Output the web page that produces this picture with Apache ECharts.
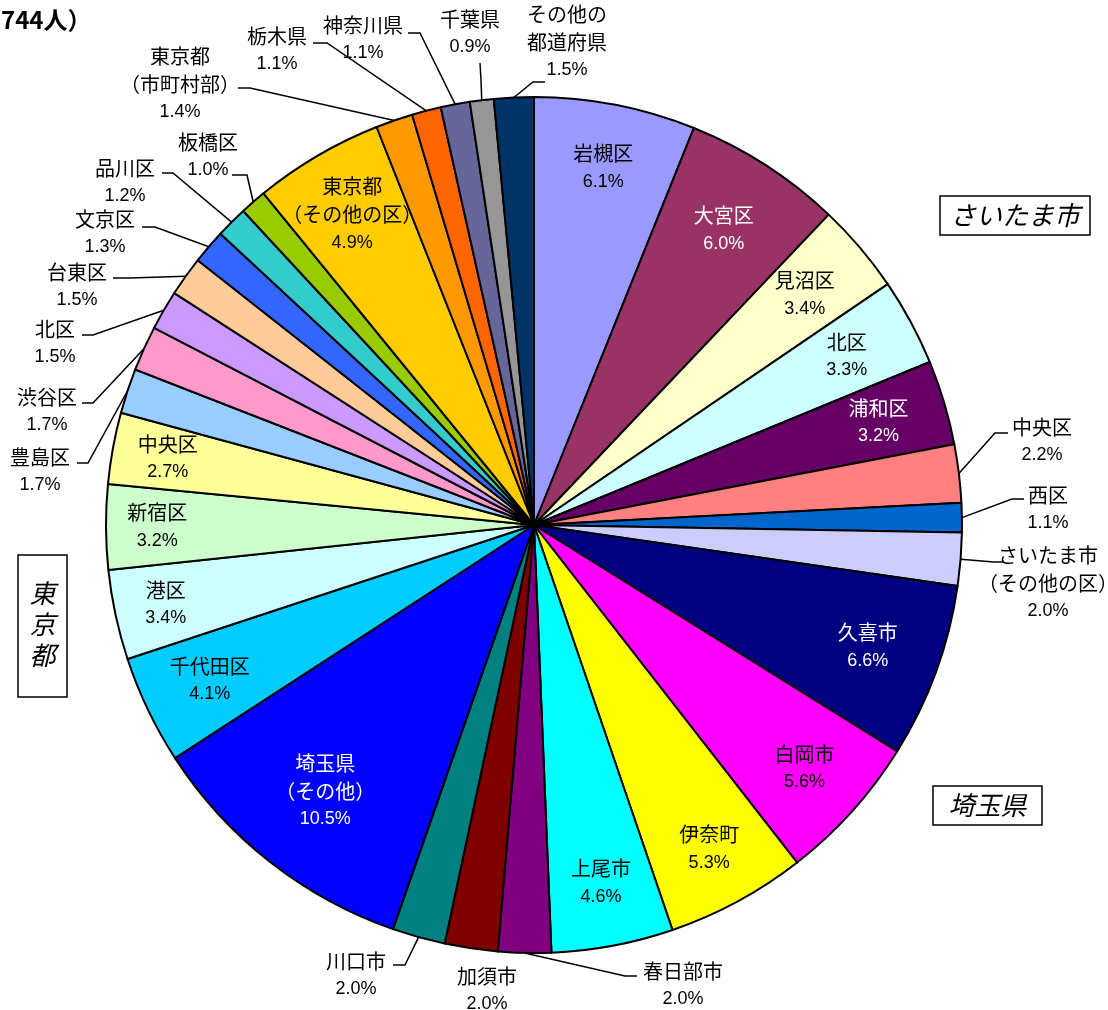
<!DOCTYPE html>
<html>
<head>
<meta charset="utf-8">
<script src="https://cdn.jsdelivr.net/npm/echarts@6/dist/echarts.min.js"></script>
<style>
  html, body { margin: 0; padding: 0; background: #fff; }
  #chart { width: 1108px; height: 1010px; }
</style>
</head>
<body>
<div id="chart"></div>
<script>
// Slices, clockwise from twelve o'clock
const areaNames = [
  '岩槻区', '大宮区', '見沼区', '北区', '浦和区', '中央区', '西区', 'さいたま市\n（その他の区）',
  '久喜市', '白岡市', '伊奈町', '上尾市', '春日部市', '加須市', '川口市', '埼玉県\n（その他）',
  '千代田区', '港区', '新宿区', '中央区', '豊島区', '渋谷区', '北区', '台東区', '文京区', '品川区', '板橋区',
  '東京都\n（その他の区）', '東京都\n（市町村部）', '栃木県', '神奈川県', '千葉県', 'その他の\n都道府県'
];
const shares = [
  6.1, 6.0, 3.4, 3.3, 3.2, 2.2, 1.1, 2.0,
  6.6, 5.6, 5.3, 4.6, 2.0, 2.0, 2.0, 10.5,
  4.1, 3.4, 3.2, 2.7, 1.7, 1.7, 1.5, 1.5, 1.3, 1.2, 1.0,
  4.9, 1.4, 1.1, 1.1, 0.9, 1.5
];
const sliceColors = [
  '#9999FF', '#993366', '#FFFFCC', '#CCFFFF', '#660066', '#FF8080', '#0066CC', '#CCCCFF',
  '#000080', '#FF00FF', '#FFFF00', '#00FFFF', '#800080', '#800000', '#008080', '#0000FF',
  '#00CCFF', '#CCFFFF', '#CCFFCC', '#FFFF99', '#99CCFF', '#FF99CC', '#CC99FF', '#FFCC99', '#3366FF', '#33CCCC', '#99CC00',
  '#FFCC00', '#FF9900', '#FF6600', '#666699', '#969696', '#003366'
];
const whiteTextSlices = [1, 4, 8, 15];
const groupCaptions = ['さいたま市', '埼玉県', '東京都'];
const headText = '744人）';

// Pie geometry
const CX = 534, CY = 525, R = 428;

// Labels drawn on the slice: distance from centre as a fraction of the radius
const insideSpots = {
  0: 0.85, 1: 0.82, 2: 0.83, 3: 0.83, 4: 0.84,
  8: 0.83, 9: 0.85, 10: 0.86, 11: 0.85, 15: 0.79,
  16: 0.84, 17: 0.88, 18: 0.88, 19: 0.87, 27: 0.84
};
// Labels outside the pie: text block centre, leader-line bend and end
const outsideSpots = {
  5:  { at: [1042, 441], bend: [995, 433], tip: [1008, 433] },
  6:  { at: [1048, 509], bend: [1012, 499], tip: [1024, 499] },
  7:  { at: [1048, 583], bend: [994, 562], tip: [1004, 562] },
  12: { at: [683, 985],  bend: [625, 976], tip: [637, 976] },
  13: { at: [487, 990] },
  14: { at: [356, 975],  bend: [405, 965], tip: [393, 965] },
  20: { at: [40, 471],   bend: [88, 463],  tip: [77, 463] },
  21: { at: [47, 411],   bend: [93, 403],  tip: [82, 403] },
  22: { at: [55, 343],   bend: [93, 335],  tip: [82, 335] },
  23: { at: [77, 286],   bend: [130, 278], tip: [113, 278] },
  24: { at: [105, 233],  bend: [155, 227], tip: [142, 227] },
  25: { at: [125, 182],  bend: [173, 173], tip: [162, 173] },
  26: { at: [208, 156],  bend: [247, 175], tip: [232, 175] },
  28: { at: [180, 84],   bend: [250, 88],  tip: [238, 88] },
  29: { at: [277, 50],   bend: [327, 43],  tip: [313, 43] },
  30: { at: [363, 39],   bend: [420, 33],  tip: [408, 33] },
  31: { at: [470, 33],   bend: [481, 80],  tip: [480, 63] },
  32: { at: [567, 42],   bend: [533, 82],  tip: [545, 82] }
};

const total = shares.reduce((a, b) => a + b, 0);
const midAngle = [];
let acc = 0;
shares.forEach(v => { midAngle.push((acc + v / 2) / total * 2 * Math.PI); acc += v; });
function polar(frac, a) {
  return [CX + frac * R * Math.sin(a), CY - frac * R * Math.cos(a)];
}

const jpFont = "'Noto Sans CJK JP', sans-serif";
const numFont = "'Liberation Sans Narrow', 'Liberation Sans', sans-serif";

const pieData = areaNames.map((name, i) => {
  const inside = i in insideSpots;
  const spot = outsideSpots[i];
  return {
    name: name,
    value: shares[i],
    itemStyle: { color: sliceColors[i] },
    label: {
      position: inside ? 'inside' : 'outside',
      color: whiteTextSlices.includes(i) ? '#ffffff' : '#000000'
    },
    labelLine: { show: !inside && !!(spot && spot.tip) }
  };
});

function boxCaption(text, rect, center, vertical) {
  return {
    type: 'group',
    children: [
      {
        type: 'rect',
        shape: { x: rect[0], y: rect[1], width: rect[2], height: rect[3] },
        style: { fill: '#ffffff', stroke: '#000000', lineWidth: 1.5 }
      },
      {
        type: 'text',
        x: center[0], y: center[1],
        style: {
          text: vertical ? text.split('').join('\n') : text,
          font: "italic 26px " + jpFont,
          lineHeight: 31,
          fill: '#000000',
          align: 'center', verticalAlign: 'middle',
          textAlign: 'center', textVerticalAlign: 'middle'
        }
      }
    ]
  };
}

const chart = echarts.init(document.getElementById('chart'), null, { renderer: 'canvas' });
chart.setOption({
  animation: false,
  backgroundColor: '#ffffff',
  graphic: [
    {
      type: 'text', left: 1, top: 8,
      style: { text: headText, font: "bold 24px " + jpFont, fill: '#000000' }
    },
    boxCaption(groupCaptions[0], [940, 196, 150, 39], [1015, 215.5], false),
    boxCaption(groupCaptions[1], [933, 786, 109, 39], [987.5, 805.5], false),
    boxCaption(groupCaptions[2], [18, 555, 49, 142], [42.5, 624], true)
  ],
  series: [{
    type: 'pie',
    center: [CX, CY],
    radius: R,
    startAngle: 90,
    clockwise: true,
    avoidLabelOverlap: false,
    silent: true,
    itemStyle: { borderColor: '#000000', borderWidth: 2 },
    label: {
      show: true,
      formatter: p => {
        const lines = p.name.split('\n').map(s => '{n|' + s + '}');
        lines.push('{p|' + p.value.toFixed(1) + '%}');
        return lines.join('\n');
      },
      rich: {
        n: { fontFamily: jpFont, fontSize: 20, lineHeight: 28, align: 'center' },
        p: { fontFamily: numFont, fontSize: 18, lineHeight: 28, align: 'center' }
      }
    },
    labelLine: {
      smooth: false,
      lineStyle: { color: '#000000', width: 1.5 }
    },
    labelLayout: function (params) {
      const i = params.dataIndex;
      if (i in insideSpots) {
        const pt = polar(insideSpots[i], midAngle[i]);
        return { x: pt[0], y: pt[1], align: 'center', verticalAlign: 'middle' };
      }
      const s = outsideSpots[i];
      const out = { x: s.at[0], y: s.at[1], align: 'center', verticalAlign: 'middle' };
      if (s.tip) {
        out.labelLinePoints = [polar(1, midAngle[i]), s.bend, s.tip];
      }
      return out;
    },
    data: pieData
  }]
});
</script>
</body>
</html>
